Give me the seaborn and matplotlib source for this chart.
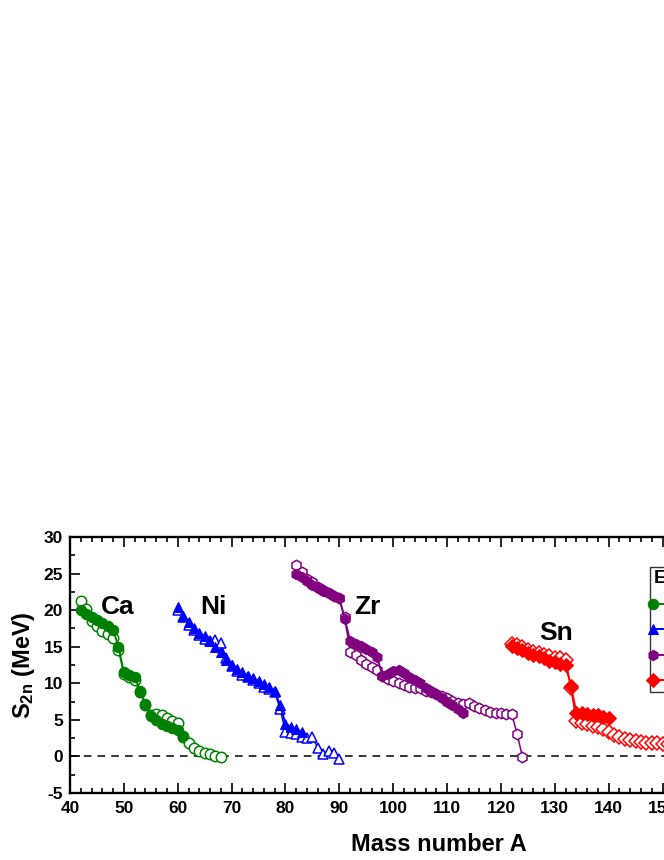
import matplotlib
matplotlib.use("Agg")
import matplotlib.pyplot as plt
from matplotlib.legend_handler import HandlerLine2D
import seaborn as sns

# Ca isotopes
ca_a_exp = list(range(42, 62))
ca_s_exp = [20.0, 19.5, 19.1, 18.6, 18.3, 17.8, 17.3, 15.0, 11.5, 11.2,
            10.9, 9.0, 7.2, 5.5, 5.0, 4.4, 4.2, 3.9, 3.6, 2.8]
ca_a_th = list(range(42, 69))
ca_s_th = [21.2, 20.2, 18.5, 17.8, 17.2, 16.8, 16.2, 14.6, 11.3, 10.8,
           10.4, 8.8, 7.0, 5.6, 5.8, 5.6, 5.2, 4.9, 4.6, 2.6,
           1.8, 1.2, 0.8, 0.5, 0.3, 0.1, -0.1]

# Ni isotopes
ni_a_exp = list(range(60, 84))
ni_s_exp = [20.4, 19.2, 18.4, 17.6, 16.9, 16.4, 15.8, 15.0, 14.3, 13.2,
            12.5, 11.9, 11.5, 11.0, 10.7, 10.3, 9.9, 9.5, 9.0, 7.0,
            4.5, 4.0, 3.7, 3.4]
ni_a_th = list(range(60, 91))
ni_s_th = [20.0, 19.0, 18.0, 17.3, 16.6, 16.0, 15.8, 15.9, 15.5, 13.5,
           12.3, 11.7, 11.2, 10.8, 10.4, 10.0, 9.5, 9.2, 8.8, 6.5,
           3.4, 3.2, 3.0, 2.6, 2.5, 2.6, 1.2, 0.3, 0.8, 0.5, -0.3]

# Zr isotopes
zr_a_exp = list(range(82, 114))
zr_s_exp = [25.0, 24.5, 24.0, 23.5, 23.0, 22.6, 22.3, 22.0, 21.6, 18.8,
            15.8, 15.4, 15.1, 14.7, 14.3, 13.6, 11.0, 11.3, 11.7, 11.8,
            11.4, 10.9, 10.5, 10.0, 9.4, 9.0, 8.5, 8.0, 7.5, 7.0,
            6.5, 6.0]
zr_a_th = list(range(82, 125))
zr_s_th = [26.2, 25.2, 24.3, 23.8, 23.2, 22.7, 22.4, 22.0, 21.6, 19.0,
           14.3, 13.8, 13.2, 12.6, 12.2, 11.8, 11.0, 10.6, 10.3, 10.0,
           9.8, 9.5, 9.4, 9.3, 9.0, 8.8, 8.5, 8.3, 8.0, 7.6,
           7.3, 7.1, 7.3, 6.9, 6.6, 6.3, 6.1, 6.0, 5.9, 5.8,
           5.8, 3.1, -0.1]

# Sn isotopes
sn_a_exp = list(range(122, 141))
sn_s_exp = [15.1, 14.8, 14.5, 14.2, 13.9, 13.7, 13.4, 13.1, 12.9, 12.7,
            12.5, 9.6, 6.0, 5.9, 5.8, 5.7, 5.6, 5.4, 5.2]
sn_a_th = list(range(122, 156))
sn_s_th = [15.4, 15.2, 14.9, 14.6, 14.3, 14.1, 13.9, 13.7, 13.5, 13.4,
           13.2, 9.3, 4.8, 4.6, 4.4, 4.2, 4.0, 3.7, 3.4, 2.9,
           2.6, 2.4, 2.2, 2.1, 2.0, 1.9, 1.8, 1.8, 1.7, 1.7,
           1.6, 1.6, 1.5, 1.5]

elements = ["Ca", "Ni", "Zr", "Sn"]
colors = ["#008000", "#0000FF", "#800080", "#FF0000"]
markers = ["o", "^", "h", "D"]
exp_data = [(ca_a_exp, ca_s_exp), (ni_a_exp, ni_s_exp),
            (zr_a_exp, zr_s_exp), (sn_a_exp, sn_s_exp)]
th_data = [(ca_a_th, ca_s_th), (ni_a_th, ni_s_th),
           (zr_a_th, zr_s_th), (sn_a_th, sn_s_th)]
label_pos = [(48.8, 20.4), (66.6, 20.4), (95.2, 20.4), (130.3, 16.9)]

sns.set_style("ticks")
plt.rcParams["font.family"] = ["Liberation Sans", "DejaVu Sans"]
plt.rcParams["font.weight"] = "bold"
plt.rcParams["axes.unicode_minus"] = False
plt.rcParams["mathtext.fontset"] = "custom"
plt.rcParams["mathtext.rm"] = "Liberation Sans:bold"
plt.rcParams["mathtext.bf"] = "Liberation Sans:bold"
#Pure black text and ticks like the original
plt.rcParams["text.color"] = "black"
plt.rcParams["axes.labelcolor"] = "black"
plt.rcParams["xtick.color"] = "black"
plt.rcParams["ytick.color"] = "black"

fig = plt.figure(figsize=(6.64, 8.6), dpi=100)
#Axes run past the right edge, as in the cropped original
ax = fig.add_axes([70 / 664, 67 / 860, 738 / 664, 256 / 860])

exp_lines = []
for i, el in enumerate(elements):
    #Theory points (open symbols)
    sns.lineplot(x=th_data[i][0], y=th_data[i][1], ax=ax, color=colors[i],
                 marker=markers[i], markersize=7.5, markerfacecolor="white",
                 markeredgecolor=colors[i], markeredgewidth=1.1, linewidth=1.1,
                 errorbar=None, legend=False)
    #Experimental points (filled symbols)
    sns.lineplot(x=exp_data[i][0], y=exp_data[i][1], ax=ax, color=colors[i],
                 marker=markers[i], markersize=7.5, markerfacecolor=colors[i],
                 markeredgecolor=colors[i], linewidth=1.4,
                 errorbar=None, legend=False)
    exp_lines.append(ax.lines[-1])
    ax.text(label_pos[i][0], label_pos[i][1], el, fontsize=19,
            fontweight="bold", ha="center", va="center", color="black")

ax.axhline(0, color="black", linestyle=(0, (5, 4)), linewidth=1.1, zorder=0)

ax.set_xlim(40, 177)
ax.set_ylim(-5, 30)
ax.set_xticks(range(40, 180, 10))
ax.set_xticks(range(40, 178, 2), minor=True)
ax.set_yticks(range(-5, 31, 5))
ax.set_yticks([v / 2 for v in range(-10, 61, 5)], minor=True)

ax.tick_params(which="both", direction="in", top=True, right=True,
               width=1.2, labelsize=12.5, color="black", labelcolor="black")
ax.tick_params(which="major", length=7.5)
ax.tick_params(which="minor", length=3.8)
ax.tick_params(axis="x", pad=6)
ax.tick_params(axis="y", pad=5)
for lab in ax.get_xticklabels() + ax.get_yticklabels():
    lab.set_fontweight("bold")
for sp in ax.spines.values():
    sp.set_linewidth(1.7)
    sp.set_color("black")

ax.set_xlabel("Mass number A", fontsize=17, fontweight="bold", labelpad=12)
ax.set_ylabel(r"$\mathbf{S_{2n}}$ (MeV)", fontsize=17, fontweight="bold",
              labelpad=5)

leg = ax.legend(handles=exp_lines, labels=elements, title="Exp.",
                loc="upper left", bbox_to_anchor=((650 - 70) / 738, (793 - 567) / 256),
                borderaxespad=0, borderpad=0.2, numpoints=2, handlelength=2.5,
                labelspacing=0.62, fontsize=12, title_fontsize=14,
                frameon=True, fancybox=False, edgecolor="black",
                alignment="left",
                handler_map={l: HandlerLine2D(marker_pad=0) for l in exp_lines})
leg.get_frame().set_linewidth(1.0)
leg.get_title().set_fontweight("bold")

fig.savefig("out.png", dpi=100)
